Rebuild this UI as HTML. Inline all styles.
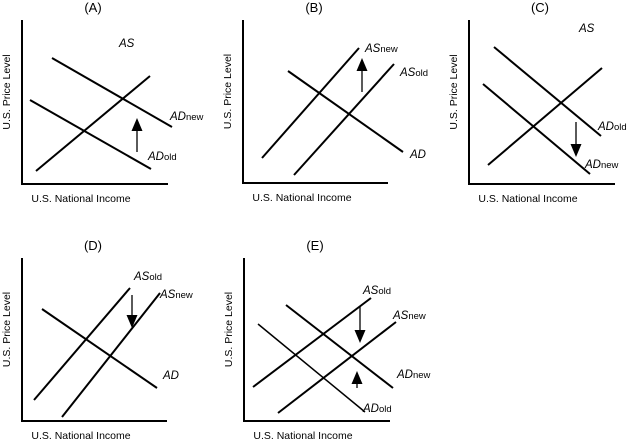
<!DOCTYPE html>
<html><head><meta charset="utf-8"><style>
body{margin:0;background:#fff;width:627px;height:439px;overflow:hidden}
svg{display:block;font-family:"Liberation Sans",Arial,sans-serif}
</style></head><body>
<svg id="c" width="627" height="439" viewBox="0 0 627 439"></svg>
<script>
// Panel definitions (axis origin in px, curves as endpoints relative to origin: x right, y up)
const panelIds = ["A","B","C","D","E"];
const panelOrigins = [[22,184],[243,183],[469,184],[22,421],[244,421]];
const panelAxisSize = [[146,164],[145,163],[146,164],[145,163],[146,163]];
const curveNames = [
 ["AS","ADnew","ADold"],
 ["ASnew","ASold","AD"],
 ["AS","ADold","ADnew"],
 ["ASold","ASnew","AD"],
 ["ASold","ASnew","ADnew","ADold"]];
const curveValues = [
 [[14,13,128,108],[30,126,150,57],[8,84,129,15]],
 [[19,25,116,135],[51,8,151,119],[45,112,160,31]],
 [[19,19,133,116],[25,137,132,48],[14,100,121,10]],
 [[12,21,108,133],[40,4,138,128],[20,112,135,33]],
 [[9,34,127,123],[34,8,152,99],[42,116,149,33],[14,97,121,9]]];
const labelTexts = [
 [["AS",""],["AD","new"],["AD","old"]],
 [["AS","new"],["AS","old"],["AD",""]],
 [["AS",""],["AD","old"],["AD","new"]],
 [["AS","old"],["AS","new"],["AD",""]],
 [["AS","old"],["AS","new"],["AD","new"],["AD","old"]]];
const labelPos = [
 [[97,137],[148,64],[126,24]],
 [[122,131],[157,107],[167,25]],
 [[110,152],[129,54],[116,16]],
 [[112,141],[138,123],[141,42]],
 [[119,127],[149,102],[153,43],[119,9]]];
const arrows = [[[115,32,66]],[[119,91,125]],[[107,62,27]],[[110,126,93]],[[116,115,78],[113,33,50]]];
const NS="http://www.w3.org/2000/svg", svg=document.getElementById("c");
function mk(t,a,p){const e=document.createElementNS(NS,t);for(const k in a)e.setAttribute(k,a[k]);(p||svg).appendChild(e);return e;}
panelIds.forEach((id,i)=>{
 const [ox,oy]=panelOrigins[i],[w,h]=panelAxisSize[i];
 const sx=v=>ox+v, sy=v=>oy-v;
 const g=mk("g",{});
 
 
 const ax=mk("path",{d:`M${sx(0)} ${sy(h)}V${sy(0)}H${sx(w)}`,stroke:"#000","stroke-width":2,fill:"none"},g);
 
 
 const t=mk("text",{x:sx(71),y:oy-h-8,"font-size":13,"text-anchor":"middle"},g);t.textContent="("+id+")";
 
 
 const xl=mk("text",{x:sx(59),y:oy+18,"font-size":10.5,"text-anchor":"middle"},g);xl.textContent="U.S. National Income";
 
 
 const yx=ox-12,yy=oy-h/2-10;
 const yl=mk("text",{x:yx,y:yy,"font-size":10.5,"text-anchor":"middle",transform:`rotate(-90 ${yx} ${yy})`},g);yl.textContent="U.S. Price Level";
 
 
 curveValues[i].forEach((c,j)=>{
  const l=mk("line",{x1:sx(c[0]),y1:sy(c[1]),x2:sx(c[2]),y2:sy(c[3]),stroke:"#000","stroke-width":(id==="E"&&j===3)?1.5:2},g);
  
  
  const [lx,ly]=labelPos[i][j],[m,s]=labelTexts[i][j];
  const tx=mk("text",{x:sx(lx),y:sy(ly),"font-size":11.5,"font-style":"italic"},g);
  
  
  tx.appendChild(document.createTextNode(m));
  if(s){const ts=mk("tspan",{"font-size":9.5,"font-style":"normal"},tx);ts.textContent=s;}
 });
 arrows[i].forEach(a=>{
  const x=sx(a[0]),y1=sy(a[1]),y2=sy(a[2]),d=y2<y1?-1:1;
  const ar=mk("g",{},g);
  
  
  mk("line",{x1:x,y1:y1,x2:x,y2:y2-d*10,stroke:"#000","stroke-width":1.3},ar);
  mk("polygon",{points:`${x-5.5},${y2-d*13} ${x+5.5},${y2-d*13} ${x},${y2}`,fill:"#000"},ar);
 });
});
</script>
</body></html>
